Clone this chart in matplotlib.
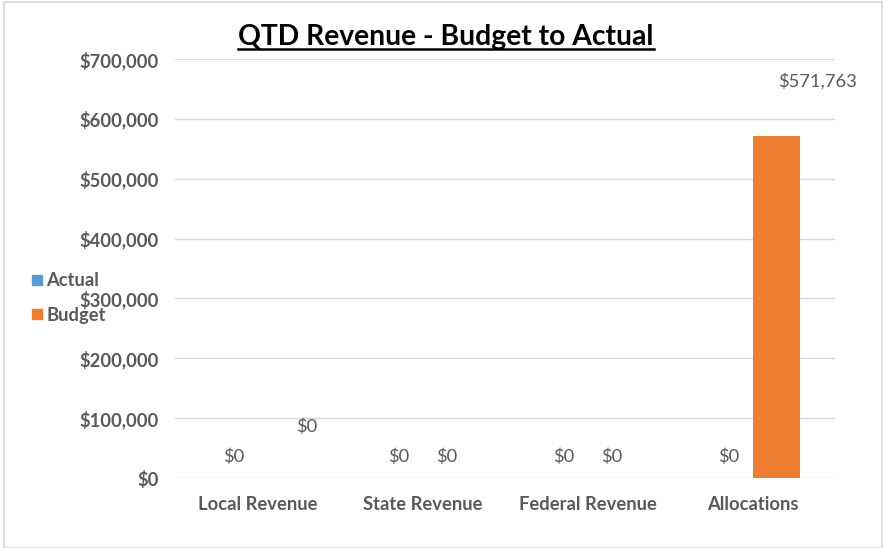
import matplotlib
matplotlib.use("Agg")
import matplotlib.pyplot as plt
import numpy as np
from matplotlib.patches import Rectangle
from matplotlib.lines import Line2D
from matplotlib.ticker import FuncFormatter

categories = ["Local Revenue", "State Revenue", "Federal Revenue", "Allocations"]
actual = [0, 0, 0, 0]
budget = [0, 0, 0, 571763]
series_names = ["Actual", "Budget"]
colors = ["#5B9BD5", "#ED7D31"]
title = "QTD Revenue - Budget to Actual"

plt.rcParams['font.family'] = ['Lato', 'DejaVu Sans']
gray = "#595959"

fig = plt.figure(figsize=(8.84, 5.48), dpi=100)
fig.patches.append(Rectangle((0.004, 0.0), 0.994, 0.997, transform=fig.transFigure,
                             fill=False, edgecolor="#D9D9D9", linewidth=1.2))
ax = fig.add_axes([175/884, 1-478/548, 660/884, (478-59)/548])

x = np.arange(len(categories))
w = 0.29
ax.bar(x - w/2, actual, w, color=colors[0], label=series_names[0])
ax.bar(x + w/2, budget, w, color=colors[1], label=series_names[1])

ax.set_xlim(-0.5, len(categories) - 0.5)
ax.set_ylim(0, 700000)
ax.set_yticks(np.arange(0, 700001, 100000))
ax.yaxis.set_major_formatter(FuncFormatter(lambda v, p: f"${v:,.0f}"))
ax.grid(axis="y", color="#D9D9D9", linewidth=1)
ax.set_axisbelow(True)
for s in ax.spines.values():
    s.set_visible(False)
ax.tick_params(length=0)
ax.tick_params(axis="y", pad=12)
ax.tick_params(axis="x", pad=13)
ax.set_xticks(x)
ax.set_xticklabels(categories)
for lbl in ax.get_xticklabels() + ax.get_yticklabels():
    lbl.set_fontweight("bold")
    lbl.set_color(gray)
    lbl.set_fontsize(13.2)

lab_fs = 13.2
# data labels (offsets in pixels)
for i in range(len(categories)):
    ax.annotate(f"${actual[i]:,.0f}", (x[i] - w/2, actual[i]), xytext=(0, 21),
                textcoords="offset pixels", ha="center", va="center",
                fontsize=lab_fs, color=gray)
    if budget[i] > 500000:
        off = (41, 55)
    elif i == 0:
        off = (25, 51)
    else:
        off = (0, 21)
    ax.annotate(f"${budget[i]:,.0f}", (x[i] + w/2, budget[i]), xytext=off,
                textcoords="offset pixels", ha="center", va="center",
                fontsize=lab_fs, color=gray)

handles = [Line2D([], [], marker="s", linestyle="", markersize=7.5, color=c) for c in colors]
leg = fig.legend(handles, series_names, loc="center left", bbox_to_anchor=(20/884, 1-298/548),
                 frameon=False, handletextpad=0.05, labelspacing=0.95, borderaxespad=0,
                 handlelength=1.0, prop={"weight": "bold", "size": 13.2})
for t in leg.get_texts():
    t.set_color(gray)

ttl = fig.text(446/884, 1-37/548, title, ha="center", va="center",
               fontsize=20.3, fontweight="bold", color="black")
fig.canvas.draw()
bb = ttl.get_window_extent(fig.canvas.get_renderer()).transformed(fig.transFigure.inverted())
fig.add_artist(Line2D([bb.x0, bb.x1], [bb.y0 + 0.002, bb.y0 + 0.002], transform=fig.transFigure,
                      color="black", linewidth=1.8))

fig.savefig("out.png", dpi=100)
